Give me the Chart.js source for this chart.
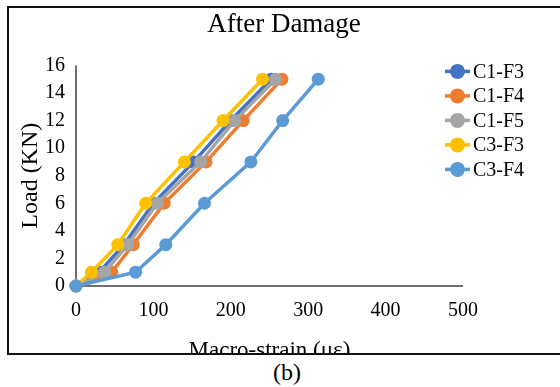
<!DOCTYPE html>
<html><head><meta charset="utf-8">
<script src="https://cdn.jsdelivr.net/npm/chart.js@4/dist/chart.umd.min.js"></script>
<style>
html,body{margin:0;padding:0;background:#fff;width:560px;height:387px;overflow:hidden;position:relative;}
#frame{position:absolute;left:7px;top:6px;width:580px;height:345px;border:2px solid #111;overflow:hidden;background:#fff;}
#c{position:absolute;left:-9px;top:-8px;}
#cap{position:absolute;left:0;width:574px;top:357px;text-align:center;font:24px "Liberation Serif",serif;color:#000;line-height:30px;}
</style></head>
<body>
<div id="frame"><canvas id="c" width="560" height="387"></canvas></div>
<div id="cap">(b)</div>
<script>
const seriesNames = ["C1-F3","C1-F4","C1-F5","C3-F3","C3-F4"];
const seriesColors = ["#4472C4","#ED7D31","#A5A5A5","#FFC000","#5B9BD5"];
const loadValues = [0,1,3,6,9,12,15];
const strainC1F3 = [0,30,62,100,152,200,252];
const strainC1F4 = [0,46,74,114,168,216,266];
const strainC1F5 = [0,37,67,105,161,205,258];
const strainC3F3 = [0,20,54,90,140,190,241];
const strainC3F4 = [0,77,116,166,226,267,313];
const strainSeries = [strainC1F3,strainC1F4,strainC1F5,strainC3F3,strainC3F4];
const xTickMax = 500, xTickStep = 100, yTickMax = 16, yTickStep = 2;

const serif = "'Liberation Serif', 'Times New Roman', serif";

const datasets = strainSeries.map((xs,i)=>({
  label: seriesNames[i],
  data: xs.map((x,j)=>({x:x,y:loadValues[j]})),
  borderColor: seriesColors[i],
  backgroundColor: seriesColors[i],
  pointBackgroundColor: seriesColors[i],
  pointBorderColor: seriesColors[i],
  borderWidth: 3.5,
  pointRadius: 6.5,
  pointBorderWidth: 0,
  tension: 0,
  clip: false,
  yAxisID: 'y',
  order: seriesNames.length - 1 - i
}));

const axisLinePlugin = {
  id: 'axisLines',
  beforeDatasetsDraw(chart){
    const ctx = chart.ctx, xs = chart.scales.x, ys = chart.scales.y;
    const x0 = xs.getPixelForValue(0), x1 = xs.getPixelForValue(xTickMax);
    const y0 = ys.getPixelForValue(0), y1 = ys.getPixelForValue(yTickMax);
    ctx.save();
    ctx.strokeStyle = '#404040';
    ctx.lineWidth = 1.5;
    ctx.beginPath();
    ctx.moveTo(x0, y1); ctx.lineTo(x0, y0); ctx.lineTo(x1, y0);
    ctx.stroke();
    ctx.restore();
  }
};

const legendPlugin = {
  id: 'customLegend',
  afterDraw(chart){
    const ctx = chart.ctx;
    const ca = chart.chartArea;
    const x0 = ca.right - 18;
    const y0 = ca.top + 6;
    ctx.save();
    ctx.font = "20px " + serif;
    ctx.textBaseline = 'middle';
    ctx.textAlign = 'left';
    seriesNames.forEach((n,i)=>{
      const y = y0 + i*24.5;
      ctx.strokeStyle = seriesColors[i];
      ctx.lineWidth = 3.5;
      ctx.beginPath(); ctx.moveTo(x0, y); ctx.lineTo(x0+25, y); ctx.stroke();
      ctx.fillStyle = seriesColors[i];
      ctx.beginPath(); ctx.arc(x0+12.5, y, 7.5, 0, Math.PI*2); ctx.fill();
      ctx.fillStyle = '#000';
      ctx.fillText(n, x0+28, y+1);
    });
    ctx.restore();
  }
};

new Chart(document.getElementById('c'), {
  type: 'line',
  data: { datasets },
  plugins: [axisLinePlugin, legendPlugin],
  options: {
    responsive: false,
    animation: false,
    layout: { padding: { left: 8, right: 0, top: 0, bottom: 0 } },
    plugins: {
      legend: { display: false },
      tooltip: { enabled: false },
      title: { display: true, text: 'After Damage', color: '#000',
        font: { family: serif, size: 27, weight: 'normal' }, padding: { top: 9, bottom: 24 } }
    },
    scales: {
      x: {
        type: 'linear', min: 0, max: xTickMax,
        ticks: { stepSize: xTickStep, color: '#000', font: { family: serif, size: 20 }, padding: 13, maxRotation: 0 },
        grid: { display: false, drawTicks: false },
        border: { display: false },
        title: { display: true, text: 'Macro-strain (με)', color: '#000', font: { family: serif, size: 23 }, padding: { top: 0, bottom: 22 } },
        afterFit(s){ s.height = 101; }
      },
      y: {
        type: 'linear', min: 0, max: yTickMax,
        ticks: { stepSize: yTickStep, color: '#000', font: { family: serif, size: 20 }, padding: 11 },
        grid: { display: false, drawTicks: false },
        border: { display: false },
        title: { display: true, text: 'Load (KN)', color: '#000', font: { family: serif, size: 24 }, padding: { top: 8, bottom: 0 } },
        afterFit(s){ s.width = 68; }
      },
      legendSpace: {
        type: 'linear', position: 'right', min: 0, max: 1,
        ticks: { display: false },
        grid: { display: false, drawTicks: false },
        border: { display: false },
        afterFit(s){ s.width = 97; }
      }
    }
  }
});
</script>
</body></html>
